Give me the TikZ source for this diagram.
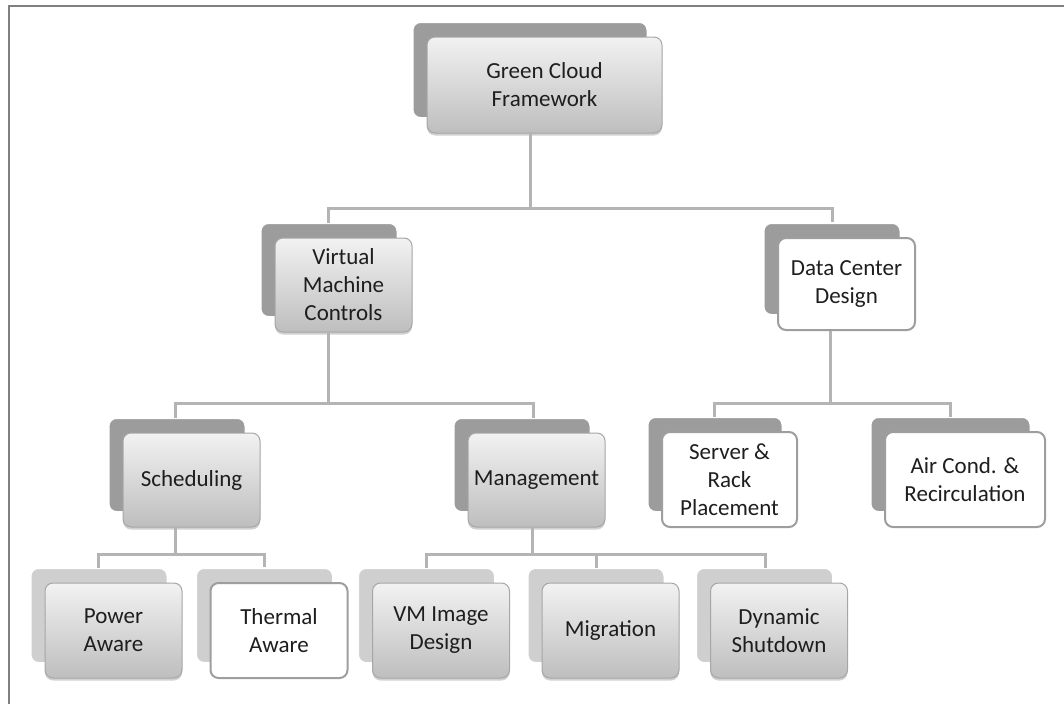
\documentclass[tikz,border=0pt]{standalone}
\usepackage{fontspec}
\setmainfont{Carlito}
\usetikzlibrary{shadows,calc}

\definecolor{frameGray}{HTML}{808080}
\definecolor{connGray}{HTML}{B4B4B4}
\definecolor{faceTop}{HTML}{F2F2F2}
\definecolor{faceBot}{HTML}{BEBEBE}
\definecolor{edgeGray}{HTML}{A6A6A6}
\definecolor{edgeWhite}{HTML}{9E9E9E}
\definecolor{backDark}{HTML}{9C9C9C}
\definecolor{backLight}{HTML}{CFCFCF}
\definecolor{txt}{HTML}{1E1E1E}

\tikzset{
  boxbase/.style={rounded corners=8pt, minimum width=137pt, minimum height=94pt,
    inner sep=0pt, align=center, text=txt,
    font=\fontsize{23}{28}\selectfont},
  behinddark/.style={general shadow={shadow xshift=-14.5pt, shadow yshift=15pt,
    fill=backDark, draw=white, line width=2pt}},
  behindlight/.style={general shadow={shadow xshift=-14.5pt, shadow yshift=15pt,
    fill=backLight, draw=white, line width=2pt}},
  softshadow/.style={general shadow={shadow xshift=0pt, shadow yshift=-2.5pt,
    fill=black, opacity=0.18}},
  grayface/.style={boxbase, top color=faceTop, bottom color=faceBot,
    draw=edgeGray, line width=1pt},
  whiteface/.style={boxbase, fill=white, draw=edgeWhite, line width=2pt},
  conn/.style={draw=connGray, line width=3pt},
}

\begin{document}
\begin{tikzpicture}[x=1pt, y=-1pt]
\useasboundingbox (0,0) rectangle (1064,704);

% frame
\draw[frameGray, line width=2pt] (8.5,704) -- (8.5,5.5) -- (1064,5.5);

% connection buses
\coordinate (bus1) at (0,208);
\coordinate (bus2) at (0,403);
\coordinate (bus3) at (0,554);

% level 1
\node[grayface, behinddark, softshadow, minimum width=235pt, minimum height=96pt]
  (gcf) at (544.5,85) {Green Cloud\\Framework};

% level 2
\node[grayface, behinddark, softshadow] (vmc) at (343.5,285) {Virtual\\Machine\\Controls};
\node[whiteface, behinddark, minimum height=92pt] (dcd) at (846.5,284) {Data Center\\Design};

% level 3
\node[grayface, behinddark, softshadow] (sched) at (191.5,480) {Scheduling};
\node[grayface, behinddark, softshadow] (mgmt) at (536.5,480) {Management};
\node[whiteface, behinddark, minimum width=135pt, minimum height=95pt] (srp) at (729.5,479.5)
  {Server \&\\Rack\\Placement};
\node[whiteface, behinddark, minimum width=160pt, minimum height=95pt] (air) at (965,479.5)
  {Air Cond. \&\\Recirculation};

% level 4
\node[grayface, behindlight, softshadow, minimum height=95pt] (power) at (113.5,630.5) {Power\\Aware};
\node[whiteface, behindlight, minimum height=95pt] (thermal) at (279,630.5) {Thermal\\Aware};
\node[grayface, behindlight, softshadow, minimum height=95pt] (vmimg) at (441,630.5) {VM Image\\Design};
\node[grayface, behindlight, softshadow, minimum height=95pt] (migr) at (610.5,630.5) {Migration};
\node[grayface, behindlight, softshadow, minimum height=95pt] (dyn) at (779,630.5) {Dynamic\\Shutdown};

% outgoing points below the parents, incoming points on the rear cards of the children
\coordinate (gcfo) at ([xshift=-14.5pt]gcf.south);
\coordinate (vmco) at ([xshift=-15.5pt]vmc.south);
\coordinate (dcdo) at ([xshift=-16.5pt]dcd.south);
\coordinate (schedo) at ([xshift=-16.5pt]sched.south);
\coordinate (mgmto) at ([xshift=-4.5pt]mgmt.south);

\coordinate (vmci) at ([xshift=-15.5pt,yshift=15pt]vmc.north);
\coordinate (dcdi) at ([xshift=-14.5pt,yshift=15pt]dcd.north);
\coordinate (schedi) at ([xshift=-16.5pt,yshift=15pt]sched.north);
\coordinate (mgmti) at ([xshift=-3.5pt,yshift=15pt]mgmt.north);
\coordinate (srpi) at ([xshift=-15.5pt,yshift=14pt]srp.north);
\coordinate (airi) at ([xshift=-15pt,yshift=14pt]air.north);
\coordinate (poweri) at ([xshift=-15pt,yshift=15pt]power.north);
\coordinate (thermali) at ([xshift=-14.5pt,yshift=15pt]thermal.north);
\coordinate (vmimgi) at ([xshift=-15pt,yshift=15pt]vmimg.north);
\coordinate (migri) at ([xshift=-14.5pt,yshift=15pt]migr.north);
\coordinate (dyni) at ([xshift=-14pt,yshift=15pt]dyn.north);

% connectors
\draw[conn] (gcfo) -- (gcfo |- bus1) -| (vmci);
\draw[conn] (gcfo |- bus1) -| (dcdi);
\draw[conn] (vmco) -- (vmco |- bus2) -| (schedi);
\draw[conn] (vmco |- bus2) -| (mgmti);
\draw[conn] (dcdo) -- (dcdo |- bus2) -| (srpi);
\draw[conn] (dcdo |- bus2) -| (airi);
\draw[conn] (schedo) -- (schedo |- bus3) -| (poweri);
\draw[conn] (schedo |- bus3) -| (thermali);
\draw[conn] (mgmto) -- (mgmto |- bus3) -| (vmimgi);
\draw[conn] (mgmto |- bus3) -| (migri);
\draw[conn] (mgmto |- bus3) -| (dyni);
\end{tikzpicture}
\end{document}
